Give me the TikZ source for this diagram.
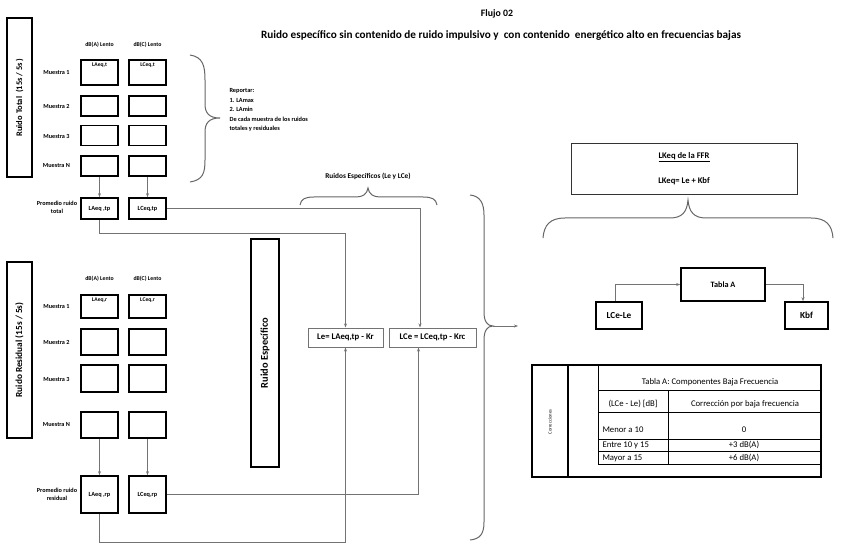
\documentclass[tikz,border=0pt]{standalone}
\usepackage{fontspec}
\setmainfont{Carlito}
\usetikzlibrary{arrows.meta,calc}
\newcommand\myfs[1]{\fontsize{#1}{#1}\selectfont}
\begin{document}
\begin{tikzpicture}[x=1pt,y=-1pt,
  box/.style={draw=black, line width=1.6pt, minimum width=37pt, inner sep=0pt},
  lbox/.style={draw=black!55, line width=1pt, inner sep=0pt},
  conn/.style={draw=black!55, line width=0.8pt},
  arr/.style={conn, -{Stealth[length=4pt,width=3pt]}},
  brc/.style={draw=black!60, line width=1pt},
  mlab/.style={font=\bfseries\myfs{6.2}},
  gaplab/.style={fill=white, inner xsep=2pt, inner ysep=1pt, anchor=north, font=\bfseries\myfs{5.6}},
  tline/.style={draw=black, line width=0.7pt},
  ttxt/.style={font=\myfs{8.7}}
]
\useasboundingbox (0,0) rectangle (843,553);

% titles
\node[font=\bfseries\myfs{9.8}] (flujo) at (497,14) {Flujo 02};
\node[font=\bfseries\myfs{11.2}] (title) at (501,36) {Ruido específico sin contenido de ruido impulsivo y\ \ con contenido\ \ energético alto en frecuencias bajas};

% ---------- Ruido total ----------
\node[box, rotate=90, minimum width=159pt, minimum height=25pt, font=\bfseries\myfs{8.5}] (rt) at (19.5,97.5) {Ruido Total\ \ (15s / 5s )};
\node[font=\bfseries\myfs{5.8}] (thA) at (99.5,45) {dB(A) Lento};
\node[font=\bfseries\myfs{5.8}] (thC) at (147.5,45) {dB(C) Lento};

\node[box, minimum height=25pt] (ta1) at (99.5,72.5) {};
\node[box, minimum height=25pt] (tc1) at (147.5,72.5) {};
\node[gaplab] (ta1l) at ([yshift=-2.2pt]ta1.north) {LAeq,t};
\node[gaplab] (tc1l) at ([yshift=-2.2pt]tc1.north) {LCeq,t};
\node[box, minimum height=20pt] (ta2) at (99.5,106) {};
\node[box, minimum height=20pt] (tc2) at (147.5,106) {};
\node[box, minimum height=20pt] (ta3) at (99.5,135.5) {};
\node[box, minimum height=20pt] (tc3) at (147.5,135.5) {};
\node[box, minimum height=20pt] (taN) at (99.5,166) {};
\node[box, minimum height=20pt] (tcN) at (147.5,166) {};
\node[box, minimum height=21pt, font=\bfseries\myfs{6.3}] (taP) at (99.5,208.5) {LAeq ,tp};
\node[box, minimum height=21pt, font=\bfseries\myfs{6.3}] (tcP) at (147.5,208.5) {LCeq,tp};

\node[mlab] (tm1) at (56.5,73) {Muestra 1};
\node[mlab] (tm2) at (56.5,106) {Muestra 2};
\node[mlab] (tm3) at (56.5,136) {Muestra 3};
\node[mlab] (tmN) at (56.5,166) {Muestra N};
\node[align=center, font=\bfseries\myfs{6.2}] (tpr) at (57,207.5) {Promedio ruido\\[2pt]total};

\draw[arr] (taN.south) -- (taP.north);
\draw[arr] (tcN.south) -- (tcP.north);

% brace Reportar
\draw[brc] (190,55) .. controls (203,57) and (205,66) .. (205,80) -- (205,104)
  .. controls (205,113) and (209,118) .. (220,118)
  .. controls (209,118) and (205,123) .. (205,132) -- (205,160)
  .. controls (205,173) and (203,180) .. (190,182);
\node[anchor=north west, align=left, font=\bfseries\myfs{6.3}] (rep) at (226,85) {Reportar:\\[3.2pt]1. LAmax\\[3.2pt]2. LAmin\\[3.2pt]De cada muestra de los ruidos\\[3.2pt]totales y residuales};

% ---------- Ruido residual ----------
\node[box, rotate=90, minimum width=176pt, minimum height=25pt, font=\bfseries\myfs{9.3}] (rr) at (19.5,350) {Ruido Residual (15s / 5s)};
\node[font=\bfseries\myfs{5.8}] (rhA) at (99.5,279) {dB(A) Lento};
\node[font=\bfseries\myfs{5.8}] (rhC) at (147.5,279) {dB(C) Lento};

\node[box, minimum height=23pt] (ra1) at (99.5,306.5) {};
\node[box, minimum height=23pt] (rc1) at (147.5,306.5) {};
\node[gaplab] (ra1l) at ([yshift=-2.2pt]ra1.north) {LAeq,r};
\node[gaplab] (rc1l) at ([yshift=-2.2pt]rc1.north) {LCeq,r};
\node[box, minimum height=26pt] (ra2) at (99.5,342) {};
\node[box, minimum height=26pt] (rc2) at (147.5,342) {};
\node[box, minimum height=27pt] (ra3) at (99.5,378.5) {};
\node[box, minimum height=27pt] (rc3) at (147.5,378.5) {};
\node[box, minimum height=26pt] (raN) at (99.5,425) {};
\node[box, minimum height=26pt] (rcN) at (147.5,425) {};
\node[box, minimum height=37pt, font=\bfseries\myfs{6.3}] (raP) at (99.5,494.5) {LAeq ,rp};
\node[box, minimum height=37pt, font=\bfseries\myfs{6.3}] (rcP) at (147.5,494.5) {LCeq,rp};

\node[mlab] (rm1) at (56.5,307) {Muestra 1};
\node[mlab] (rm2) at (56.5,342) {Muestra 2};
\node[mlab] (rm3) at (56.5,379) {Muestra 3};
\node[mlab] (rmN) at (56.5,425) {Muestra N};
\node[align=center, font=\bfseries\myfs{6.2}] (rpr) at (57,494) {Promedio ruido\\[2pt]residual};

\draw[arr] (raN.south) -- (raP.north);
\draw[arr] (rcN.south) -- (rcP.north);

% ---------- Ruido especifico ----------
\node[box, rotate=90, minimum width=228pt, minimum height=28pt, font=\bfseries\myfs{10.4}] (re) at (265,353) {Ruido Específico};

\node[lbox, minimum width=75pt, minimum height=19pt, font=\bfseries\myfs{8.7}] (le) at (345.5,337.5) {Le= LAeq,tp - Kr};
\node[lbox, minimum width=87pt, minimum height=19pt, font=\bfseries\myfs{8.7}] (lce) at (432.5,337.5) {LCe = LCeq,tp - Krc};

\draw[arr] (taP.south) -- ++(0,13.5) -| (le.north);
\draw[arr] (tcP.east) -| ([xshift=-12.5pt]lce.north);
\draw[arr] (raP.south) -- ++(0,28.5) -| (le.south);
\draw[arr] (rcP.east) -| ([xshift=-14pt]lce.south);

% brace Ruidos especificos
\node[font=\bfseries\myfs{7.3}] (resp) at (368,176) {Ruidos Específicos (Le y LCe)};
\draw[brc] (300,205) .. controls (301,199) and (305,197) .. (314,197) -- (356,197)
  .. controls (363,197) and (367,194) .. (368,188)
  .. controls (369,194) and (373,197) .. (380,197) -- (423,197)
  .. controls (432,197) and (436,199) .. (437,205);

% big brace
\draw[brc] (470,195) .. controls (480,196) and (484,203) .. (484,215) -- (484,312)
  .. controls (484,321) and (487,326) .. (493,326)
  .. controls (487,326) and (484,331) .. (484,340) -- (484,522)
  .. controls (484,534) and (480,539) .. (470,540);
\coordinate (bt) at (493,326);
\coordinate (be) at (518,326);
\draw[arr] (bt) -- (be);

% ---------- right side ----------
\node[draw=black!80, line width=0.9pt, minimum width=226pt, minimum height=51pt, inner sep=0pt, align=center, font=\bfseries\myfs{8.6}] (lk) at (684,168.5) {\underline{LKeq de la FFR}\\[15pt]LKeq= Le + Kbf};

\draw[brc] (543,238) .. controls (544,225) and (550,218) .. (565,218) -- (670,218)
  .. controls (682,218) and (687,212) .. (688,200)
  .. controls (689,212) and (694,218) .. (706,218) -- (811,218)
  .. controls (826,218) and (832,225) .. (833,238);

\node[box, minimum width=84pt, minimum height=33pt, font=\bfseries\myfs{8.2}] (taba) at (723,284.5) {Tabla A};
\node[box, minimum width=46pt, minimum height=27pt, font=\bfseries\myfs{9.2}] (lcele) at (619,315.5) {LCe-Le};
\node[box, minimum width=43pt, minimum height=27pt, font=\bfseries\myfs{9.2}] (kbf) at (806.5,315.5) {Kbf};
\draw[arr] ([xshift=-4pt]lcele.north) |- (taba.west);
\draw[arr] (taba.east) -| ([xshift=-3.5pt]kbf.north);

% table
\draw[draw=black, line width=1.1pt] (532,365) rectangle (821,477);
\draw[draw=black, line width=1.6pt] (568,365) -- (568,477);
\draw[tline] (598,365) -- (598,464) -- (821,464);
\draw[tline] (598,390) -- (821,390);
\draw[tline] (598,412) -- (821,412);
\draw[tline] (598,439) -- (821,439);
\draw[tline] (598,451) -- (821,451);
\draw[tline] (668,390) -- (668,464);
\node[rotate=90, font=\myfs{4.6}] (corr) at (550,422) {Correcciones};
\node[ttxt] (tt) at (710,382) {Tabla A: Componentes Baja Frecuencia};
\node[ttxt] (th1) at (633,404) {(LCe - Le) [dB]};
\node[ttxt] (th2) at (745,404) {Corrección por baja frecuencia};
\node[ttxt, anchor=west] (r1a) at (599,430) {Menor a 10};
\node[ttxt] (r1b) at (744,430) {0};
\node[ttxt, anchor=west] (r2a) at (599,445) {Entre 10 y 15};
\node[ttxt] (r2b) at (744,445) {+3 dB(A)};
\node[ttxt, anchor=west] (r3a) at (599,458) {Mayor a 15};
\node[ttxt] (r3b) at (744,458) {+6 dB(A)};
\end{tikzpicture}
\end{document}
